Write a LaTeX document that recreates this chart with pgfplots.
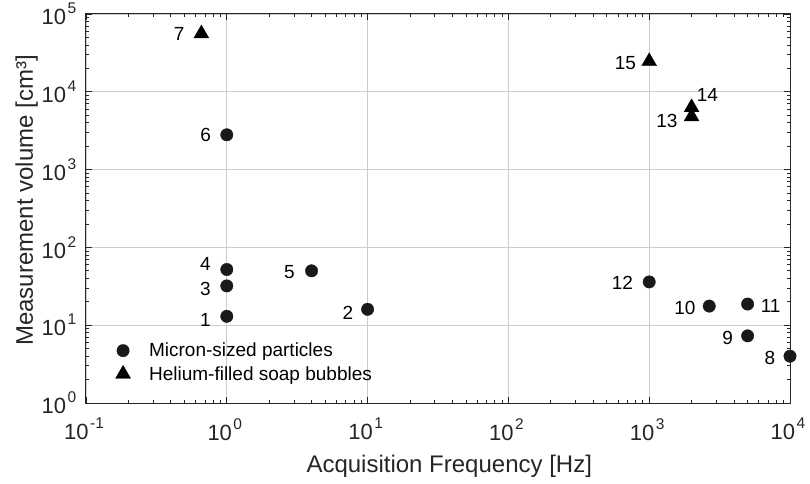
\documentclass[border=0pt]{standalone}
\usepackage{fontspec}
\setmainfont{Liberation Sans}
\usepackage{pgfplots}
\pgfplotsset{compat=1.18}
\definecolor{axc}{RGB}{38,38,38}
\definecolor{gridc}{RGB}{205,205,205}
\definecolor{mk}{RGB}{25,25,25}
\newcommand\tl[1]{10\kern1.5bp\raisebox{11bp}{\fontsize{15.5bp}{15.5bp}\selectfont #1}}
\newcommand\lbl[6]{\node[anchor=#4, inner sep=0pt, text=black, font=\fontsize{19bp}{19bp}\selectfont, xshift=#5bp, yshift=#6bp] at (axis cs:#1,#2) {#3};}
\begin{document}
\begin{tikzpicture}
\begin{loglogaxis}[
  at={(0,0)}, anchor=south west,
  scale only axis, width=704bp, height=389bp,
  xmin=0.1, xmax=10000, ymin=1, ymax=100000,
  xtick={0.1,1,10,100,1000,10000},
  xticklabels={\tl{-1},\tl{0},\tl{1},\tl{2},\tl{3},\tl{4}},
  ytick={1,10,100,1000,10000,100000},
  yticklabels={\tl{0},\tl{1},\tl{2},\tl{3},\tl{4},\tl{5}},
  grid=major, major grid style={gridc, line width=0.9bp},
  axis line style={axc, line width=1bp},
  tick style={axc, line width=0.8bp},
  tick align=inside,
  major tick length=6bp, minor tick length=3.5bp,
  tick label style={font=\fontsize{22bp}{24bp}\selectfont, text=axc},
  xticklabel style={inner sep=0pt, anchor=north, yshift=-15bp, xshift=-2bp},
  yticklabel style={inner sep=0pt, anchor=east, xshift=-9.5bp, yshift=0bp},
  xlabel={Acquisition Frequency [Hz]},
  ylabel={Measurement volume [cm³]},
  label style={font=\fontsize{24bp}{28bp}\selectfont, text=axc, inner sep=0pt},
  xlabel style={at={(axis description cs:0.516,-0.1774)}, anchor=base},
  ylabel style={at={(axis description cs:-0.0753,0.521)}, anchor=base, rotate=0},
  legend style={draw=none, fill=none, inner sep=0pt, outer sep=0pt,
    at={(axis description cs:0.0413,0.050)}, anchor=south west,
    font=\fontsize{19bp}{19bp}\selectfont, text=black, row sep=4bp,
    nodes={inner sep=2bp}},
  legend cell align=left,
  legend image code/.code={\path[draw=none, fill=none] (-8bp,-7bp) rectangle (24bp,7bp); \draw[#1] plot coordinates {(0bp,0bp)};},
]
\addplot[only marks, mark=*, mark size=6.2bp, mark options={fill=mk, draw=mk, line width=0.4bp}] coordinates {
  (1,13) (10,16) (1,32) (1,52) (4,50) (1,2800)
  (10000,4.0) (5000,7.3) (2670,17.6) (5000,18.7) (1000,36)
};
\addlegendentry{Micron-sized particles}
\addplot[only marks, mark=triangle*, mark size=8.7bp, mark options={fill=black, draw=black, line width=0.2bp}] coordinates {
  (0.66,56000) (2000,4800) (2000,6300) (1000,24600)
};
\addlegendentry{Helium-filled soap bubbles}
\lbl{1}{13}{1}{east}{-16}{-3.5}
\lbl{10}{16}{2}{east}{-14.3}{-3.4}
\lbl{1}{32}{3}{east}{-16}{-3}
\lbl{1}{52}{4}{east}{-16}{6}
\lbl{4}{50}{5}{east}{-16.7}{-1.7}
\lbl{1}{2800}{6}{east}{-15.7}{0}
\lbl{0.66}{56000}{7}{east}{-16.7}{0}
\lbl{10000}{4.0}{8}{east}{-14.7}{-2}
\lbl{5000}{7.3}{9}{east}{-14.6}{-2}
\lbl{2670}{17.6}{10}{east}{-13.6}{-2}
\lbl{5000}{18.7}{11}{west}{13}{-2}
\lbl{1000}{36}{12}{east}{-16}{-1.3}
\lbl{2000}{4800}{13}{east}{-14}{-4.7}
\lbl{2000}{6300}{14}{west}{5}{12.3}
\lbl{1000}{24600}{15}{east}{-13}{-1.7}
\end{loglogaxis}
\pgfresetboundingbox
\path[use as bounding box] (-86bp,-81bp) rectangle (724bp,403bp);
\end{tikzpicture}
\end{document}
